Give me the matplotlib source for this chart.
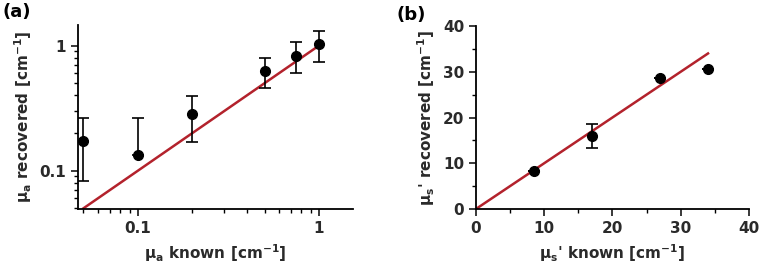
import numpy as np
import matplotlib
matplotlib.use("Agg")
import matplotlib.pyplot as plt
from matplotlib.ticker import LogLocator, NullFormatter, FixedLocator, MultipleLocator

plt.rcParams["font.family"] = "DejaVu Sans"
plt.rcParams["font.weight"] = "bold"
plt.rcParams["axes.labelweight"] = "bold"
plt.rcParams["mathtext.default"] = "bf"
plt.rcParams["axes.linewidth"] = 1.3

# panel (a): absorption
mua_known = [0.05, 0.1, 0.2, 0.5, 0.75, 1.0]
mua_recovered = [0.173, 0.134, 0.286, 0.628, 0.832, 1.026]
mua_err_low = [0.091, 0.0, 0.115, 0.172, 0.224, 0.281]
mua_err_high = [0.093, 0.128, 0.112, 0.172, 0.228, 0.284]

# panel (b): reduced scattering
mus_known = [8.5, 17, 27, 34]
mus_recovered = [8.2, 16.0, 28.7, 30.7]
mus_err = [0.0, 2.6, 0.0, 0.0]

red = "#b3222c"
txt = "#2a2a2a"

fig = plt.figure(figsize=(7.59, 2.67), dpi=100)
ax1 = fig.add_axes([0.1028, 0.2172, 0.3623, 0.6892])
ax2 = fig.add_axes([0.627, 0.2172, 0.3598, 0.6854])

# (a)
ax1.plot([0.05, 1.0], [0.05, 1.0], color=red, lw=1.8, zorder=2)
ax1.errorbar(mua_known, mua_recovered, yerr=[mua_err_low, mua_err_high],
             fmt="o", color="black", ms=7, elinewidth=1.2, capsize=4,
             capthick=1.2, zorder=3)
ax1.set_xscale("log")
ax1.set_yscale("log")
ax1.set_xlim(0.0467, 1.54)
ax1.set_ylim(0.0494, 1.46)
ax1.xaxis.set_major_locator(FixedLocator([0.1, 1]))
ax1.yaxis.set_major_locator(FixedLocator([0.1, 1]))
ax1.set_xticklabels(["0.1", "1"])
ax1.set_yticklabels(["0.1", "1"])
ax1.xaxis.set_minor_locator(LogLocator(base=10, subs=np.arange(2, 10)))
ax1.yaxis.set_minor_locator(LogLocator(base=10, subs=np.arange(2, 10)))
ax1.xaxis.set_minor_formatter(NullFormatter())
ax1.yaxis.set_minor_formatter(NullFormatter())
ax1.set_xlabel(r"μ$_a$ known [cm$^{-1}$]", fontsize=11, labelpad=5,
               fontweight="bold", color=txt)
ax1.set_ylabel(r"μ$_a$ recovered [cm$^{-1}$]", fontsize=11, labelpad=4,
               fontweight="bold", color=txt)

# (b)
ax2.plot([0, 34], [0, 34], color=red, lw=1.8, zorder=2)
ax2.errorbar(mus_known, mus_recovered, yerr=mus_err, fmt="o", color="black",
             ms=7, elinewidth=1.2, capsize=4, capthick=1.2, zorder=3)
ax2.set_xlim(0, 40)
ax2.set_ylim(0, 40)
ax2.xaxis.set_major_locator(MultipleLocator(10))
ax2.yaxis.set_major_locator(MultipleLocator(10))
ax2.xaxis.set_minor_locator(MultipleLocator(5))
ax2.yaxis.set_minor_locator(MultipleLocator(5))
ax2.set_xlabel(r"μ$_s$' known [cm$^{-1}$]", fontsize=11, labelpad=5,
               fontweight="bold", color=txt)
ax2.set_ylabel(r"μ$_s$' recovered [cm$^{-1}$]", fontsize=11, labelpad=4,
               fontweight="bold", color=txt)

for ax in (ax1, ax2):
    ax.spines["top"].set_visible(False)
    ax.spines["right"].set_visible(False)
    ax.tick_params(which="major", direction="out", length=5, width=1.3,
                   labelsize=11, colors=txt)
    ax.tick_params(which="minor", direction="out", length=3, width=1.0)
    for lab in ax.get_xticklabels() + ax.get_yticklabels():
        lab.set_fontweight("bold")

fig.text(0.003, 0.955, "(a)", fontsize=13, fontweight="bold", va="center")
fig.text(0.523, 0.945, "(b)", fontsize=13, fontweight="bold", va="center")

fig.savefig("out.png", dpi=100)
